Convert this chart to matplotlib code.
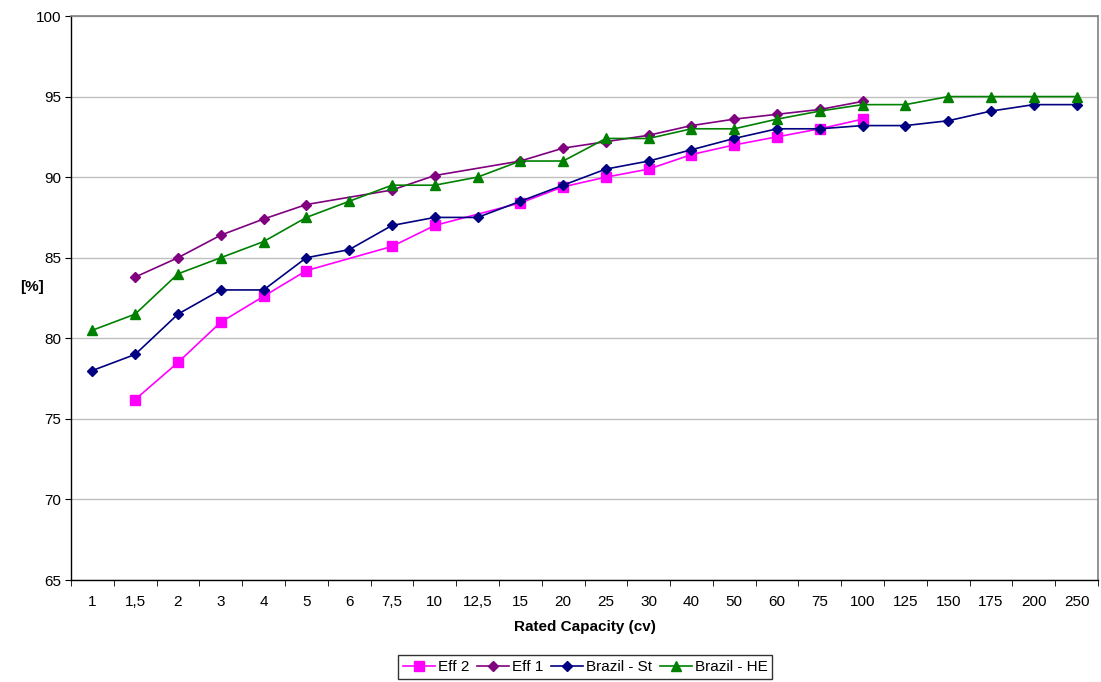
import numpy as np
import matplotlib
matplotlib.use("Agg")
import matplotlib.pyplot as plt
from matplotlib.ticker import FixedLocator

plt.rcParams['font.family'] = ['Liberation Sans', 'DejaVu Sans']

capacity = ['1', '1,5', '2', '3', '4', '5', '6', '7,5', '10', '12,5', '15', '20',
            '25', '30', '40', '50', '60', '75', '100', '125', '150', '175', '200', '250']
nan = np.nan

eff2 = [nan, 76.2, 78.5, 81.0, 82.6, 84.2, nan, 85.7, 87.0, nan, 88.4, 89.4,
        90.0, 90.5, 91.4, 92.0, 92.5, 93.0, 93.6, nan, nan, nan, nan, nan]
eff1 = [nan, 83.8, 85.0, 86.4, 87.4, 88.3, nan, 89.2, 90.1, nan, 91.0, 91.8,
        92.2, 92.6, 93.2, 93.6, 93.9, 94.2, 94.7, nan, nan, nan, nan, nan]
brazil_st = [78.0, 79.0, 81.5, 83.0, 83.0, 85.0, 85.5, 87.0, 87.5, 87.5, 88.5, 89.5,
             90.5, 91.0, 91.7, 92.4, 93.0, 93.0, 93.2, 93.2, 93.5, 94.1, 94.5, 94.5]
brazil_he = [80.5, 81.5, 84.0, 85.0, 86.0, 87.5, 88.5, 89.5, 89.5, 90.0, 91.0, 91.0,
             92.4, 92.4, 93.0, 93.0, 93.6, 94.1, 94.5, 94.5, 95.0, 95.0, 95.0, 95.0]

fig = plt.figure(figsize=(11.01, 6.82), dpi=100)
ax = fig.add_axes([71 / 1101, 1 - 580 / 682, 1027 / 1101, 564 / 682])

x = np.arange(len(capacity))

def draw(vals, color, marker, ms, label):
    v = np.array(vals, dtype=float)
    m = ~np.isnan(v)
    ax.plot(x[m], v[m], color=color, marker=marker, markersize=ms, lw=1.2,
            label=label, clip_on=False)

draw(eff2, '#FF00FF', 's', 7, 'Eff 2')
draw(eff1, '#800080', 'D', 5, 'Eff 1')
draw(brazil_st, '#000080', 'D', 5, 'Brazil - St')
draw(brazil_he, '#008000', '^', 7, 'Brazil - HE')

ax.set_xlim(-0.5, len(capacity) - 0.5)
ax.set_ylim(65, 100)
ax.set_yticks(np.arange(65, 101, 5))
ax.yaxis.grid(True, color='#c0c0c0', lw=1)
ax.set_axisbelow(True)

ax.set_xticks(x)
ax.set_xticklabels(capacity)
ax.xaxis.set_minor_locator(FixedLocator(np.arange(-0.5, len(capacity), 1)))
ax.tick_params(axis='x', which='major', length=0, pad=11, labelsize=11)
ax.tick_params(axis='x', which='minor', length=4, direction='out')
ax.tick_params(axis='y', length=4, direction='out', labelsize=11, pad=3)

for s in ['top', 'right']:
    ax.spines[s].set_color('#808080')
    ax.spines[s].set_linewidth(1.2)
for s in ['left', 'bottom']:
    ax.spines[s].set_color('black')
    ax.spines[s].set_linewidth(1)

ax.set_xlabel('Rated Capacity (cv)', fontweight='bold', fontsize=11, labelpad=8)
fig.text(20 / 1101, 1 - 287 / 682, '[%]', fontweight='bold', fontsize=11,
         ha='left', va='center')

leg = fig.legend(loc='center', bbox_to_anchor=(585 / 1101, 1 - 667 / 682), ncol=4,
                 frameon=True, fancybox=False, edgecolor='black', fontsize=11,
                 handlelength=2.1, handletextpad=0.2, columnspacing=0.5,
                 borderpad=0.3, borderaxespad=0)
leg.get_frame().set_linewidth(1)

fig.savefig('out.png', dpi=100)
